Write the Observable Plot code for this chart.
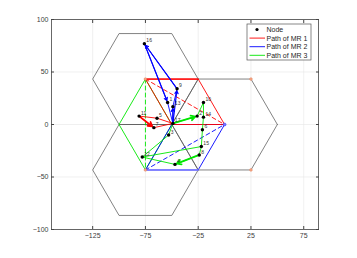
<!DOCTYPE html>
<html><head><meta charset="utf-8">
<script src="https://cdn.jsdelivr.net/npm/d3@7"></script>
<script src="https://cdn.jsdelivr.net/npm/@observablehq/plot@0.6"></script>
<style>
body{margin:0;background:#fff;}
#chart{width:357px;height:258px;}
</style></head><body><div id="chart"></div>
<script>
// Tick values
const xTicks = [-125, -75, -25, 25, 75];
const yTicks = [-100, -50, 0, 50, 100];

// Sensor nodes
const nodeId = [1, 2, 3, 4, 5, 6, 7, 8, 9, 10, 11, 12, 13, 14, 15, 16, 17];
const nodeX  = [-54, -26, -53, -47, -64, -21, -67, -24, -45, -20, -81, -78, -49, -20, -22, -76, -49];
const nodeY  = [21, 8, -10, -38, 6, -5, -3, -29, 34, 21, 8, -31, 17, 7, -21, 77, 1];

// Hexagon cells (vertex lists)
const hex1X = [-25, -50, -100, -125, -100, -50, -25];
const hex1Y = [43.3, 86.6, 86.6, 43.3, 0, 0, 43.3];
const hex2X = [50, 25, -25, -50, -25, 25, 50];
const hex2Y = [0, 43.3, 43.3, 0, -43.3, -43.3, 0];
const hex3X = [-25, -50, -100, -125, -100, -50, -25];
const hex3Y = [-43.3, 0, 0, -43.3, -86.6, -86.6, -43.3];

// MR regions (rhombi) and their diagonals
const mr1X = [-75, -25, 0, -50, -75];
const mr1Y = [43.3, 43.3, 0, 0, 43.3];
const mr2X = [-50, 0, -25, -75, -50];
const mr2Y = [0, 0, -43.3, -43.3, 0];
const mr3X = [-75, -100, -75, -50, -75];
const mr3Y = [43.3, 0, -43.3, 0, 43.3];
const mr1DiagX = [-75, 0],   mr1DiagY = [43.3, 0];
const mr2DiagX = [-75, 0],   mr2DiagY = [-43.3, 0];
const mr3DiagX = [-75, -75], mr3DiagY = [43.3, -43.3];

// Vertex markers
const markX = [-75, -75, 25, 25];
const markY = [43.3, -43.3, 43.3, -43.3];

// Paths (node sequences) and arrow segments
const mr1Path = [17, 5, 11, 7, 17];
const mr1Arrows = [[11, 7]];
const mr2Path = [17, 13, 9, 16, 1, 17];
const mr2Arrows = [[17, 13], [17, 9], [9, 16], [16, 1]];
const mr3Path = [17, 2, 10, 14, 6, 15, 8, 4, 12, 3, 17];
const mr3Extra = [[12, 15]];
const mr3Arrows = [[17, 2], [8, 4]];

const RED = "#ff0000", BLUE = "#0000ff", GREEN = "#00e600", GRAY = "#5a5a5a";

const pts = (xs, ys) => xs.map((x, i) => ({x, y: ys[i]}));
const nodes = nodeId.map((id, i) => ({id, x: nodeX[i], y: nodeY[i]}));
const byId = new Map(nodes.map(n => [n.id, n]));
const pathPts = p => p.map(id => byId.get(id));
const segs = s => s.map(([a, b]) => ({x1: byId.get(a).x, y1: byId.get(a).y, x2: byId.get(b).x, y2: byId.get(b).y}));

const chart = Plot.plot({
  width: 357, height: 258,
  marginLeft: 51, marginRight: 39, marginTop: 19, marginBottom: 29,
  x: {domain: [-164, 89], label: null},
  y: {domain: [-100, 100], label: null},
  style: {fontFamily: "Liberation Sans, Arial, sans-serif", fontSize: "7px", color: "#404040", background: "#fff"},
  marks: [
    Plot.gridX(xTicks, {stroke: "#e6e6e6", strokeOpacity: 1, strokeWidth: 0.6}),
    Plot.gridY(yTicks, {stroke: "#e6e6e6", strokeOpacity: 1, strokeWidth: 0.6}),
    // hexagons
    ...[[hex1X, hex1Y], [hex2X, hex2Y], [hex3X, hex3Y]].map(([xs, ys]) =>
      Plot.line(pts(xs, ys), {x: "x", y: "y", stroke: GRAY, strokeWidth: 0.75})),
    // MR regions
    Plot.line(pts(mr3X, mr3Y), {x: "x", y: "y", stroke: GREEN, strokeWidth: 0.9}),
    Plot.line(pts(mr3DiagX, mr3DiagY), {x: "x", y: "y", stroke: GREEN, strokeWidth: 0.9, strokeDasharray: "4,3"}),
    Plot.line(pts(mr2X, mr2Y), {x: "x", y: "y", stroke: BLUE, strokeWidth: 0.9}),
    Plot.line(pts(mr2X.slice(2, 4), mr2Y.slice(2, 4)), {x: "x", y: "y", stroke: "#7f7fff", strokeWidth: 1.6}),
    Plot.line(pts(mr2DiagX, mr2DiagY), {x: "x", y: "y", stroke: BLUE, strokeWidth: 0.9, strokeDasharray: "4,3"}),
    Plot.line(pts(mr1X, mr1Y), {x: "x", y: "y", stroke: RED, strokeWidth: 0.9}),
    Plot.line(pts(mr1X.slice(0, 2), mr1Y.slice(0, 2)), {x: "x", y: "y", stroke: RED, strokeWidth: 1.3}),
    Plot.line(pts(mr1DiagX, mr1DiagY), {x: "x", y: "y", stroke: RED, strokeWidth: 0.9, strokeDasharray: "4,3"}),
    Plot.dot(pts(markX, markY), {x: "x", y: "y", r: 1.4, fill: "#f4a582", stroke: "#e08060", strokeWidth: 0.4}),
    Plot.dot([{x: 0, y: 0}], {x: "x", y: "y", r: 1.5, fill: "#7f7fff", stroke: BLUE, strokeWidth: 0.4}),
    // paths
    Plot.line(pathPts(mr3Path), {x: "x", y: "y", stroke: GREEN, strokeWidth: 0.9}),
    Plot.link(segs(mr3Extra), {x1: "x1", y1: "y1", x2: "x2", y2: "y2", stroke: GREEN, strokeWidth: 0.9}),
    Plot.arrow(segs(mr3Arrows), {x1: "x1", y1: "y1", x2: "x2", y2: "y2", stroke: GREEN, strokeWidth: 1.8, headLength: 4, insetEnd: 2}),
    Plot.line(pathPts(mr2Path), {x: "x", y: "y", stroke: BLUE, strokeWidth: 0.9}),
    Plot.arrow(segs(mr2Arrows), {x1: "x1", y1: "y1", x2: "x2", y2: "y2", stroke: BLUE, strokeWidth: 1.2, headLength: 4, insetEnd: 2}),
    Plot.line(pathPts(mr1Path), {x: "x", y: "y", stroke: RED, strokeWidth: 0.9}),
    Plot.arrow(segs(mr1Arrows), {x1: "x1", y1: "y1", x2: "x2", y2: "y2", stroke: RED, strokeWidth: 1.8, headLength: 4, insetEnd: 2}),
    // nodes
    Plot.dot(nodes, {x: "x", y: "y", r: 1.7, fill: "#000"}),
    Plot.text(nodes, {x: "x", y: "y", text: "id", dx: 2, dy: -3, textAnchor: "start", fontSize: 5, fill: "#333"}),
    // axes
    Plot.frame({stroke: "#444", strokeWidth: 0.8}),
    Plot.axisX(xTicks, {anchor: "bottom", tickSize: -3, tickPadding: 7, stroke: "#444", fill: "#404040", fontSize: 7}),
    Plot.axisX(xTicks, {anchor: "top", tickSize: -3, tickFormat: () => "", stroke: "#444"}),
    Plot.axisY(yTicks, {anchor: "left", tickSize: -3, tickPadding: 6, stroke: "#444", fill: "#404040", fontSize: 7}),
    Plot.axisY(yTicks, {anchor: "right", tickSize: -3, tickFormat: () => "", stroke: "#444"})
  ]
});

// Legend
const svg = d3.select(chart);
const lg = svg.append("g")
  .attr("font-family", "Liberation Sans, Arial, sans-serif")
  .attr("font-size", 7).attr("fill", "#262626").attr("text-anchor", "start");
lg.append("rect").attr("x", 247).attr("y", 24).attr("width", 64).attr("height", 36)
  .attr("fill", "#fff").attr("stroke", "#555").attr("stroke-width", 0.7);
const legendLabels = ["Node", "Path of MR 1", "Path of MR 2", "Path of MR 3"];
const legendColors = ["#000", RED, BLUE, GREEN];
legendLabels.forEach((t, i) => {
  const yy = 29.5 + i * 8.6;
  if (i === 0) lg.append("circle").attr("cx", 257).attr("cy", yy).attr("r", 1.6).attr("fill", "#000");
  else lg.append("line").attr("x1", 249.5).attr("x2", 265).attr("y1", yy).attr("y2", yy)
    .attr("stroke", legendColors[i]).attr("stroke-width", 0.9);
  lg.append("text").attr("x", 266.5).attr("y", yy).attr("dy", "0.35em").attr("text-anchor", "start").text(t);
});

document.getElementById("chart").appendChild(chart);
</script>
</body></html>
